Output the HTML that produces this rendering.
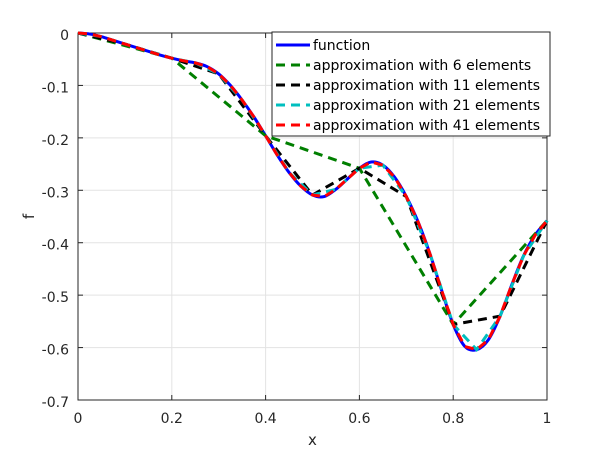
<!DOCTYPE html>
<html><head><meta charset="utf-8"><style>
html,body{margin:0;padding:0;background:#fff;}
svg{display:block;font-family:"DejaVu Sans","Liberation Sans",sans-serif;}
</style></head><body>
<svg id="chart" width="605" height="454" viewBox="0 0 605 454"></svg>
<script>
const xs = [0,0.025,0.05,0.075,0.1,0.125,0.15,0.175,0.2,0.225,0.25,0.275,0.3,0.325,0.35,0.375,0.4,0.425,0.45,0.475,0.5,0.525,0.55,0.575,0.6,0.625,0.65,0.675,0.7,0.725,0.75,0.775,0.8,0.825,0.85,0.875,0.9,0.925,0.95,0.975,1.0];
const fvals = [0,-0.002,-0.007,-0.014,-0.021,-0.028,-0.035,-0.042,-0.048,-0.053,-0.057,-0.064,-0.078,-0.100,-0.128,-0.160,-0.196,-0.233,-0.266,-0.292,-0.309,-0.312,-0.298,-0.278,-0.258,-0.246,-0.252,-0.275,-0.312,-0.360,-0.420,-0.490,-0.556,-0.598,-0.604,-0.585,-0.540,-0.480,-0.425,-0.385,-0.358];
const elementCounts = [6,11,21,41];
const seriesColors = ['#007f00','#000000','#00bfbf','#ff0000'];
const xTicks = [0,0.2,0.4,0.6,0.8,1];
const xTickLabels = ['0','0.2','0.4','0.6','0.8','1'];
const yTicks = [0,-0.1,-0.2,-0.3,-0.4,-0.5,-0.6,-0.7];
const yTickLabels = ['0','-0.1','-0.2','-0.3','-0.4','-0.5','-0.6','-0.7'];
const legendLabels = ['function','approximation with 6 elements','approximation with 11 elements','approximation with 21 elements','approximation with 41 elements'];

const L=78,R=547,T=33,B=400;
const sx=x=>L+(x-0)/(1-0)*(R-L);
const sy=y=>T+(0-y)/(0-(-0.7))*(B-T);
const svg=document.getElementById('chart');
const NS='http://www.w3.org/2000/svg';
function mk(tag,attrs,parent){const e=document.createElementNS(NS,tag);for(const k in attrs)e.setAttribute(k,attrs[k]);(parent||svg).appendChild(e);return e;}

const grid=mk('g',{});


xTicks.forEach(t=>{mk('line',{x1:sx(t),x2:sx(t),y1:T,y2:B,stroke:'#e3e3e3','stroke-width':1},grid);});
yTicks.forEach(t=>{mk('line',{x1:L,x2:R,y1:sy(t),y2:sy(t),stroke:'#e3e3e3','stroke-width':1},grid);});

const axes=mk('g',{});


mk('rect',{x:L,y:T,width:R-L,height:B-T,fill:'none',stroke:'#262626','stroke-width':1},axes);
xTicks.forEach((t,i)=>{
  mk('line',{x1:sx(t),x2:sx(t),y1:B,y2:B-5,stroke:'#262626'},axes);
  mk('line',{x1:sx(t),x2:sx(t),y1:T,y2:T+5,stroke:'#262626'},axes);
  const tx=mk('text',{x:sx(t),y:B+23,'text-anchor':'middle','font-size':14,fill:'#262626'},axes);
  tx.textContent=xTickLabels[i];
  
  
});
yTicks.forEach((t,i)=>{
  mk('line',{x1:L,x2:L+5,y1:sy(t),y2:sy(t),stroke:'#262626'},axes);
  mk('line',{x1:R,x2:R-5,y1:sy(t),y2:sy(t),stroke:'#262626'},axes);
  const tx=mk('text',{x:L-9,y:sy(t)+7,'text-anchor':'end','font-size':14,fill:'#262626'},axes);
  tx.textContent=yTickLabels[i];
  
  
});
const xl=mk('text',{x:(L+R)/2,y:445,'text-anchor':'middle','font-size':15,fill:'#262626'});
xl.textContent='x';


const yl=mk('text',{x:0,y:0,'text-anchor':'middle','font-size':15,fill:'#262626',transform:'translate(34,'+((T+B)/2)+') rotate(-90)'});
yl.textContent='f';



const plot=mk('g',{});


function interp(x){
  for(let i=0;i<xs.length-1;i++){if(x<=xs[i+1]+1e-9){const t=(x-xs[i])/(xs[i+1]-xs[i]);return fvals[i]+t*(fvals[i+1]-fvals[i]);}}
  return fvals[fvals.length-1];
}
let d='M'+sx(xs[0])+','+sy(fvals[0]);
for(let i=0;i<xs.length-1;i++){
  const p0=[sx(xs[Math.max(0,i-1)]),sy(fvals[Math.max(0,i-1)])],p1=[sx(xs[i]),sy(fvals[i])],p2=[sx(xs[i+1]),sy(fvals[i+1])],p3=[sx(xs[Math.min(xs.length-1,i+2)]),sy(fvals[Math.min(xs.length-1,i+2)])];
  const c1=[p1[0]+(p2[0]-p0[0])/6,p1[1]+(p2[1]-p0[1])/6],c2=[p2[0]-(p3[0]-p1[0])/6,p2[1]-(p3[1]-p1[1])/6];
  d+=' C'+c1+' '+c2+' '+p2;
}
const fl=mk('path',{d:d,fill:'none',stroke:'#0000ff','stroke-width':3},plot);


elementCounts.forEach((n,k)=>{
  const pts=[];
  for(let i=0;i<n;i++){const x=i/(n-1);pts.push(sx(x)+','+sy(interp(x)));}
  const pl=mk('polyline',{points:pts.join(' '),fill:'none',stroke:seriesColors[k],'stroke-width':3,'stroke-dasharray':'9,6'},plot);
  
  
});

const lg=mk('g',{});


mk('rect',{x:272,y:32,width:278,height:104,fill:'#fff',stroke:'#262626','stroke-width':1},lg);
const lcolors=['#0000ff'].concat(seriesColors);
legendLabels.forEach((lab,i)=>{
  const y=45+i*20;
  mk('line',{x1:276,x2:310,y1:y,y2:y,stroke:lcolors[i],'stroke-width':3,'stroke-dasharray':i?'9,6':'none'},lg);
  const tx=mk('text',{x:313,y:y+5,'font-size':14,fill:'#000'},lg);
  tx.textContent=lab;
  
  
});
</script>
</body></html>
